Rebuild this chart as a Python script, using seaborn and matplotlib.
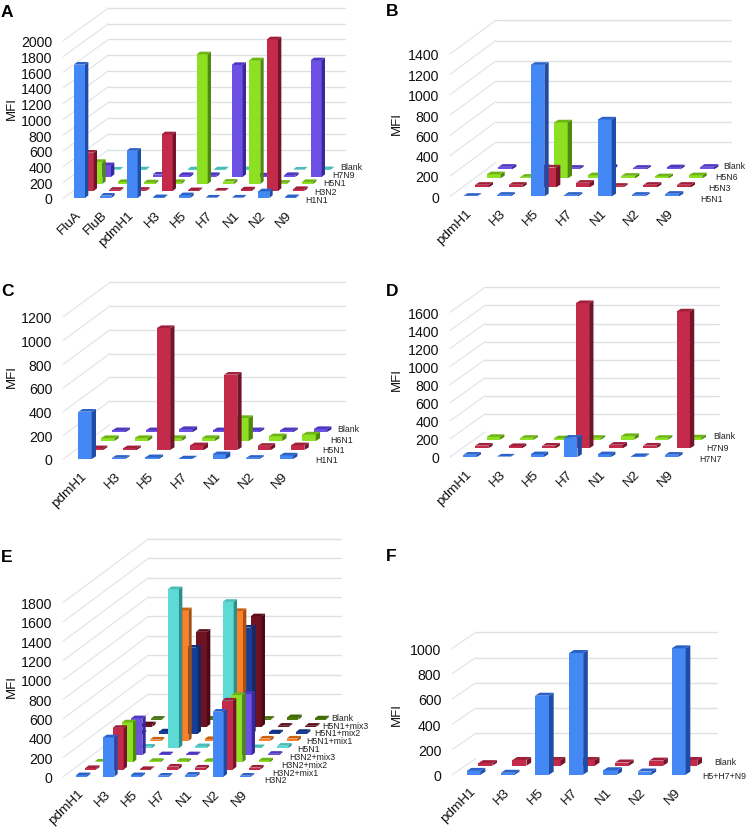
import matplotlib
matplotlib.use("Agg")
import matplotlib.pyplot as plt
import seaborn as sns

# values, one list per series (front to back)
cats_a = ["FluA", "FluB", "pdmH1", "H3", "H5", "H7", "N1", "N2", "N9"]
cats = ["pdmH1", "H3", "H5", "H7", "N1", "N2", "N9"]

names_a = ["H1N1", "H3N2", "H5N1", "H7N9", "Blank"]
a_h1n1 = [1695, 30, 600, 10, 35, 5, 5, 85, 10]
a_h3n2 = [487, 15, 15, 720, 10, 5, 20, 1928, 25]
a_h5n1 = [280, 25, 20, 25, 1648, 30, 1572, 15, 25]
a_h7n9 = [150, 5, 30, 25, 25, 1424, 20, 25, 1483]
a_blank = [5, 8, 5, 8, 8, 10, 5, 5, 10]

names_b = ["H5N1", "H5N3", "H5N6", "Blank"]
b_h5n1 = [5, 15, 1293, 15, 756, 15, 25]
b_h5n3 = [25, 25, 195, 45, 15, 25, 25]
b_h5n6 = [40, 15, 550, 30, 25, 20, 30]
b_blank = [25, 20, 15, 25, 15, 20, 25]

names_c = ["H1N1", "H5N1", "H6N1", "Blank"]
c_h1n1 = [399, 10, 15, 5, 40, 10, 30]
c_h5n1 = [15, 15, 1028, 40, 635, 35, 40]
c_h6n1 = [25, 25, 25, 25, 194, 40, 55]
c_blank = [15, 15, 25, 15, 15, 15, 25]

names_d = ["H7N7", "H7N9", "Blank"]
d_h7n7 = [25, 5, 30, 213, 30, 10, 25]
d_h7n9 = [30, 25, 30, 1606, 40, 30, 1514]
d_blank = [30, 20, 15, 20, 40, 20, 25]

names_e = ["H3N2", "H3N2+mix1", "H3N2+mix2", "H3N2+mix3", "H5N1",
           "H5N1+mix1", "H5N1+mix2", "H5N1+mix3", "Blank"]
e_h3n2 = [15, 406, 15, 10, 20, 671, 10]
e_h3n2_m1 = [15, 430, 5, 30, 20, 712, 20]
e_h3n2_m2 = [8, 413, 15, 15, 15, 695, 20]
e_h3n2_m3 = [8, 382, 10, 10, 8, 633, 15]
e_h5n1 = [10, 15, 1641, 20, 1510, 10, 25]
e_h5n1_m1 = [10, 15, 1350, 20, 1342, 25, 25]
e_h5n1_m2 = [10, 25, 890, 10, 1097, 15, 20]
e_h5n1_m3 = [25, 10, 980, 10, 1140, 10, 10]
e_blank = [8, 8, 8, 8, 8, 25, 12]

names_f = ["H5+H7+N9", "Blank"]
f_mix = [30, 15, 625, 963, 35, 25, 1000]
f_blank = [20, 45, 45, 45, 25, 40, 45]

# front, side, top colour per series slot
BLUE = ("#4388F4", "#1E4CA6", "#2A62C8")
RED = ("#C42A4A", "#74142A", "#A01F3A")
GREEN = ("#8EE022", "#4F8A0C", "#6DB514")
PURPLE = ("#6D50E4", "#38289A", "#4E38C0")
CYAN = ("#5CDAD3", "#2C8E8C", "#48BDB6")
ORANGE = ("#FB8028", "#A8500E", "#C8620F")
NAVY = ("#163E98", "#0E2A6C", "#102F7C")
DARKRED = ("#6E1222", "#4C0A16", "#5A0E1A")
OLIVE = ("#4A7A0A", "#33560A", "#3F6A08")

# layout, measured in 3x zoom pixels from each panel's crop origin
panels = [
    dict(letter="A", origin=(0, 0), cats=cats_a, names=names_a,
         series=[a_h1n1, a_h3n2, a_h5n1, a_h7n9, a_blank],
         colors=[BLUE, RED, GREEN, PURPLE, CYAN],
         left=190, right=1035, zero=597, top_val=2000, top_y=125, step=200,
         x0=222, sp=79, w=33, sx=26, sy=21, dx=10, dy=8, wx=135, wy=98,
         lab0=(917, 601), lab1=(1022, 503), mfi=(36, 325), let=(3, 37)),
    dict(letter="B", origin=(375, 0), cats=cats, names=names_b,
         series=[b_h5n1, b_h5n3, b_h5n6, b_blank],
         colors=[BLUE, RED, GREEN, PURPLE],
         left=225, right=1068, zero=592, top_val=1400, top_y=165, step=200,
         x0=265, sp=101, w=41, sx=35, sy=27, dx=13, dy=8, wx=137, wy=101,
         lab0=(975, 597), lab1=(1045, 500), mfi=(65, 370), let=(33, 33)),
    dict(letter="C", origin=(0, 270), cats=cats, names=names_c,
         series=[c_h1n1, c_h5n1, c_h6n1, c_blank],
         colors=[BLUE, RED, GREEN, PURPLE],
         left=190, right=1035, zero=570, top_val=1200, top_y=143, step=200,
         x0=235, sp=100.7, w=40, sx=34, sy=27, dx=13, dy=8, wx=140, wy=103,
         lab0=(945, 573), lab1=(1013, 480), mfi=(36, 320), let=(3, 64)),
    dict(letter="D", origin=(375, 270), cats=cats, names=names_d,
         series=[d_h7n7, d_h7n9, d_blank],
         colors=[BLUE, RED, GREEN],
         left=225, right=1033, zero=564, top_val=1600, top_y=130, step=200,
         x0=265, sp=100.8, w=40, sx=35, sy=26, dx=13, dy=8, wx=105, wy=75,
         lab0=(972, 570), lab1=(1015, 500), mfi=(65, 330), let=(33, 64)),
    dict(letter="E", origin=(0, 530), cats=cats, names=names_e,
         series=[e_h3n2, e_h3n2_m1, e_h3n2_m2, e_h3n2_m3, e_h5n1,
                 e_h5n1_m1, e_h5n1_m2, e_h5n1_m3, e_blank],
         colors=[BLUE, RED, GREEN, PURPLE, CYAN, ORANGE, NAVY, DARKRED, OLIVE],
         left=190, right=1023, zero=743, top_val=1800, top_y=220, step=200,
         x0=228, sp=82, w=33, sx=28, sy=21.4, dx=10, dy=8, wx=255, wy=190,
         lab0=(792, 753), lab1=(993, 565), mfi=(35, 470), let=(3, 84)),
    dict(letter="F", origin=(375, 530), cats=cats, names=names_f,
         series=[f_mix, f_blank],
         colors=[BLUE, RED],
         left=232, right=1025, zero=737, top_val=1000, top_y=358, step=200,
         x0=275, sp=102.5, w=42, sx=35, sy=27, dx=14, dy=9, wx=70, wy=48,
         lab0=(981, 740), lab1=(1018, 698), mfi=(65, 555), let=(33, 81)),
]

sns.set_theme(style="white")
plt.rcParams["font.family"] = ["Liberation Sans", "DejaVu Sans"]

W, H = 750, 829
fig = plt.figure(figsize=(W / 100, H / 100), dpi=100)


def draw_panel(p):
    ox, oy = p["origin"]
    per_val = (p["zero"] - p["top_y"]) / p["top_val"]   # zoom px per MFI unit

    left_px = ox + p["left"] / 3
    right_px = ox + p["right"] / 3
    zero_px = oy + p["zero"] / 3
    height_px = (p["zero"] - p["top_y"]) / 3
    ax = fig.add_axes([left_px / W, 1 - zero_px / H,
                       (right_px - left_px) / W, height_px / H])

    xmin = (p["left"] - p["x0"]) / p["sp"]
    xmax = (p["right"] - p["x0"]) / p["sp"]
    w = p["w"] / p["sp"]
    sx = p["sx"] / p["sp"]
    dx = p["dx"] / p["sp"]
    sy = p["sy"] / per_val
    dy = p["dy"] / per_val
    wx = p["wx"] / p["sp"]
    wy = p["wy"] / per_val

    ticks = list(range(0, p["top_val"] + 1, p["step"]))

    # back wall and left wall grid
    for t in ticks:
        ax.plot([xmin, xmin + wx], [t, t + wy], color="#E3E6E8", lw=0.9,
                clip_on=False, zorder=1)
        if t > 0:
            ax.plot([xmin + wx, xmax], [t + wy, t + wy], color="#DDE1E4", lw=1.0,
                    clip_on=False, zorder=1)

    # back series first so the front ones cover them
    n = len(p["series"])
    for s, vals in enumerate(p["series"]):
        front, side, top = p["colors"][s]
        z = 5 + (n - s)
        bottom = s * sy
        xs = [c + s * sx + w / 2 for c in range(len(vals))]
        sns.barplot(x=xs, y=vals, native_scale=True, width=w, bottom=bottom,
                    color=front, saturation=1, errorbar=None, linewidth=0,
                    clip_on=False, zorder=z, ax=ax)
        for c, v in enumerate(vals):
            xl = c + s * sx
            xr = xl + w
            ax.fill([xr, xr + dx, xr + dx, xr],
                    [bottom, bottom + dy, bottom + v + dy, bottom + v],
                    color=side, lw=0, clip_on=False, zorder=z)
            ax.fill([xl, xr, xr + dx, xl + dx],
                    [bottom + v, bottom + v, bottom + v + dy, bottom + v + dy],
                    color=top, lw=0, clip_on=False, zorder=z)

    ax.set_xlim(xmin, xmax)
    ax.set_ylim(0, p["top_val"])
    sns.despine(ax=ax, left=True, bottom=True)
    ax.set_xlabel("")
    ax.set_ylabel("")
    ax.patch.set_alpha(0)

    ax.set_yticks(ticks)
    ax.set_yticklabels([str(t) for t in ticks], fontsize=10.2, color="#111111")
    ax.tick_params(axis="y", length=0, pad=8)

    ax.set_xticks([c + w / 2 for c in range(len(p["cats"]))])
    ax.set_xticklabels(p["cats"], fontsize=9.7, color="#111111", rotation=45,
                       ha="right", va="center", rotation_mode="anchor")
    ax.tick_params(axis="x", length=0, pad=10.5)

    # series names along the depth axis
    lx0, ly0 = p["lab0"]
    lx1, ly1 = p["lab1"]
    for s, name in enumerate(p["names"]):
        f = s / (n - 1)
        lx = ox + (lx0 + (lx1 - lx0) * f) / 3
        ly = oy + (ly0 + (ly1 - ly0) * f) / 3
        fig.text(lx / W, 1 - ly / H, name, fontsize=6.3, color="#222222",
                 ha="left", va="center")

    mx, my = p["mfi"]
    fig.text((ox + mx / 3) / W, 1 - (oy + my / 3) / H, "MFI", fontsize=9.5,
             rotation=90, ha="center", va="center", color="#111111")
    lx, ly = p["let"]
    fig.text((ox + lx / 3) / W, 1 - (oy + ly / 3) / H, p["letter"], fontsize=12.5,
             fontweight="bold", ha="left", va="center", color="black")


for panel in panels:
    draw_panel(panel)

fig.savefig("out.png", dpi=100)
